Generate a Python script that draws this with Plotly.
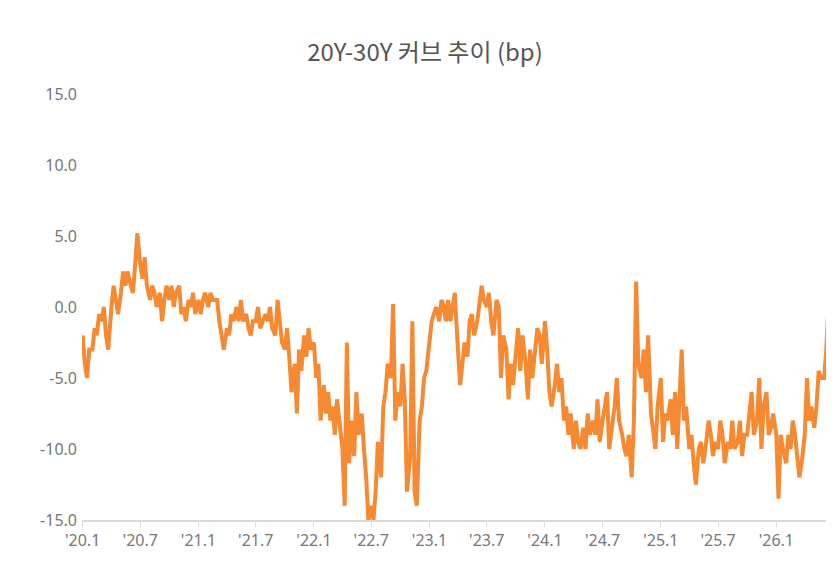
import plotly.graph_objects as go
import pandas as pd

months = pd.date_range("2020-01-01", "2026-06-01", freq="MS")
values = [
 -2,-4,-5,-3, -3,-1.5,-2,-0.5, -1,0,-2,-3, 0,1.5,0.5,-0.5, 1,2.5,1.5,2.5, 1.5,1,3,5.2,
 3,2,3.5,1.5, 0.5,1.5,1,0, 1,-1,0.5,1.5, 0.5,1.5,0,1, 1.5,-0.5,0,-1, 0.5,0,1,-0.5,
 0.5,-0.5,0.5,1, 0,1,0.5,0.5, 0.5,-1,-2,-3, -1.5,-2,-0.5,-1, 0,-1,0.5,-1, -0.5,-1.5,-2,-1,
 -1,0,-1.5,-1, -0.5,-1,0,-1.5, -2,0.5,-1,-2.5, -3,-1.5,-3.5,-6, -4,-7.5,-3,-4.5, -2,-3.5,-1.5,-3,
 -2.5,-5,-4,-8, -5.5,-7.5,-6,-8, -7,-9,-6.5,-8, -10,-14,-2.5,-11, -8,-10.5,-6,-9, -7.5,-10,-12,-15,
 -14,-15,-13,-9.5, -12,-7,-6,-4, -5,0.2,-8,-6, -7,-4,-6.5,-13, -10.5,-1,-13,-14, -8,-7,-5,-4.5,
 -2,-1,-0.5,0, -1,0.5,0,-1, 0.5,-1,0,1, -3,-5.5,-4,-2.5, -3.5,-1,-0.5,-2, -1,0.5,1.5,0.5,
 0,1,-1,-2, 0.5,0,-5,-2, -3,-6.5,-4,-5.5, -3,-1.5,-4.5,-2, -4,-6.5,-3,-5, -3,-1.5,-2,-4,
 -1,-3,-6,-7, -5.5,-4,-6,-5, -8,-7,-9,-7.5, -10,-8,-9.5,-10, -8.5,-10,-7.5,-9, -8,-9,-6.5,-9.5,
 -8,-7,-6,-10, -8.5,-7,-5,-8, -9,-10,-10.5,-9, -12,-8,1.8,-4, -5,-3,-6,-2, -7.5,-9,-10,-7,
 -5,-9.5,-7.5,-8, -6.5,-9,-6,-10, -7,-3,-8,-7, -10,-9,-11,-12.5, -10,-9.5,-11,-10, -8,-9,-10.5,-9.5,
 -10,-8,-9,-11, -9.5,-10,-8,-10, -9.5,-8,-10.5,-9, -9,-7.5,-6,-9, -8,-5,-10,-7, -6,-9,-8.5,-7.5,
 -9,-13.5,-9,-10, -11,-9,-10,-8, -9,-10.5,-12,-11, -9,-5,-8,-7, -8.5,-7,-4.5,-5, -5,-3,1,3.5,
]
dates = [m + pd.Timedelta(days=d) for m in months for d in (0, 7, 14, 21)]

tick_vals = pd.date_range("2020-01-01", "2026-01-01", freq="6MS")
tick_text = ["'20.1","'20.7","'21.1","'21.7","'22.1","'22.7","'23.1","'23.7","'24.1","'24.7","'25.1","'25.7","'26.1"]
y_ticks = [-15, -10, -5, 0, 5, 10, 15]
y_text = ["-15.0", "-10.0", "-5.0", "0.0", "5.0", "10.0", "15.0"]

fig = go.Figure(go.Scatter(x=dates, y=values, mode="lines",
                           line=dict(color="#F58A33", width=4)))
fig.update_layout(
    width=834, height=562, plot_bgcolor="white", paper_bgcolor="white",
    margin=dict(l=74, r=10, t=86, b=50), showlegend=False,
    title=dict(text="20Y-30Y 커브 추이 (bp)", x=0.5, y=0.935, xanchor="center",
               font=dict(family="Noto Sans CJK KR", size=24, color="#555")),
    font=dict(family="Noto Sans", color="#777", size=16),
)
fig.update_xaxes(range=["2019-12-30", "2026-06-26"], tickvals=tick_vals, ticktext=tick_text,
                 showgrid=False, showline=True, linecolor="#d9d9d9", linewidth=1.5,
                 ticks="outside", tickcolor="#d9d9d9", ticklen=5)
fig.update_yaxes(range=[-15, 15], tickvals=y_ticks, ticktext=y_text, showgrid=False,
                 zeroline=False, showline=False, ticklabelstandoff=4)
fig.write_html("out.html")
